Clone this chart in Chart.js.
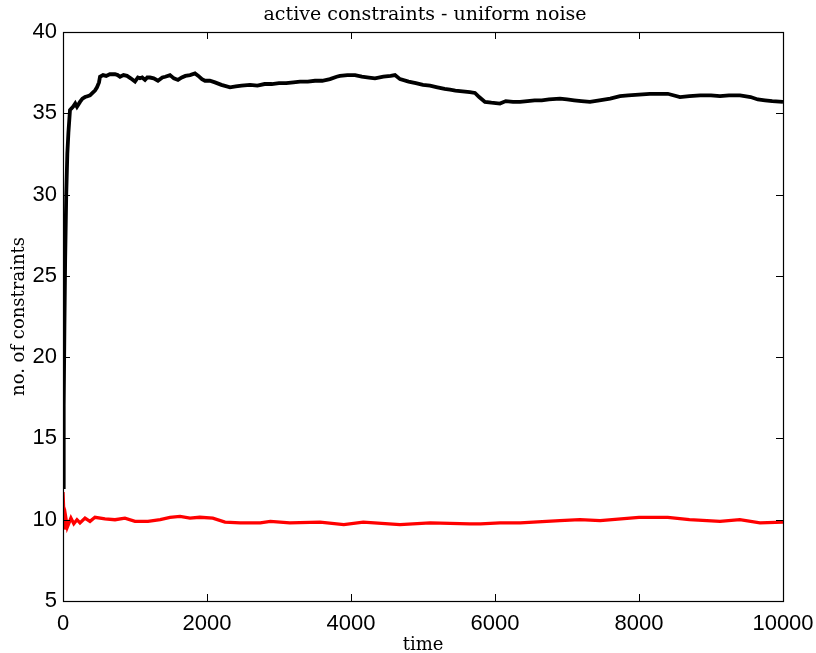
<!DOCTYPE html>
<html>
<head>
<meta charset="utf-8">
<script src="https://cdn.jsdelivr.net/npm/chart.js@4/dist/chart.umd.min.js"></script>
<style>
  html, body { margin: 0; padding: 0; background: #fff; }
  #wrap { width: 816px; height: 653px; }
</style>
</head>
<body>
<div id="wrap"><canvas id="chart"></canvas></div>
<script>
// black curve: all active constraints
const blackTime = [0, 10, 20, 30, 45, 60, 75, 97, 139, 170, 194, 236, 270, 306, 340, 375, 410, 444, 472, 500, 514, 556, 600, 650, 722, 760, 792, 840, 889, 940, 1000, 1040, 1069, 1100, 1139, 1170, 1208, 1260, 1319, 1380, 1420, 1486, 1540, 1597, 1650, 1700, 1764, 1833, 1880, 1930, 1972, 2040, 2111, 2200, 2320, 2400, 2480, 2597, 2700, 2800, 2900, 3000, 3100, 3200, 3292, 3400, 3500, 3600, 3708, 3800, 3847, 3950, 4056, 4150, 4250, 4333, 4450, 4550, 4611, 4681, 4800, 4900, 5000, 5097, 5200, 5300, 5375, 5450, 5550, 5650, 5722, 5780, 5861, 5950, 6069, 6150, 6250, 6347, 6450, 6550, 6650, 6750, 6903, 7000, 7100, 7200, 7319, 7450, 7600, 7736, 7850, 8000, 8150, 8292, 8400, 8569, 8700, 8850, 9000, 9125, 9250, 9403, 9550, 9650, 9750, 9850, 10000];
const blackVals = [12.0, 17, 22, 26, 30, 32.5, 33.8, 35.2, 35.4, 35.6, 35.4, 35.7, 35.9, 36.0, 36.05, 36.1, 36.25, 36.4, 36.6, 36.9, 37.25, 37.35, 37.3, 37.4, 37.4, 37.35, 37.25, 37.35, 37.3, 37.15, 36.95, 37.2, 37.15, 37.2, 37.05, 37.2, 37.2, 37.15, 37.0, 37.2, 37.25, 37.35, 37.15, 37.05, 37.2, 37.3, 37.35, 37.45, 37.3, 37.1, 37.0, 37.0, 36.9, 36.75, 36.6, 36.65, 36.7, 36.75, 36.7, 36.8, 36.8, 36.85, 36.85, 36.9, 36.95, 36.95, 37.0, 37.0, 37.1, 37.25, 37.3, 37.35, 37.35, 37.25, 37.2, 37.15, 37.25, 37.3, 37.35, 37.1, 36.95, 36.85, 36.75, 36.7, 36.6, 36.5, 36.45, 36.4, 36.35, 36.3, 36.25, 36.0, 35.7, 35.65, 35.6, 35.75, 35.7, 35.7, 35.75, 35.8, 35.8, 35.85, 35.9, 35.85, 35.8, 35.75, 35.7, 35.8, 35.9, 36.05, 36.1, 36.15, 36.2, 36.2, 36.2, 36.0, 36.05, 36.1, 36.1, 36.05, 36.1, 36.1, 36.0, 35.85, 35.8, 35.75, 35.7];

// red curve
const redTime = [0, 20, 40, 60, 110, 150, 194, 236, 306, 375, 444, 583, 722, 860, 1000, 1180, 1350, 1486, 1625, 1764, 1900, 2080, 2250, 2460, 2740, 2880, 3150, 3570, 3900, 4170, 4680, 5100, 5650, 5800, 6070, 6350, 6900, 7180, 7460, 8000, 8400, 8700, 9125, 9400, 9680, 10000];
const redVals = [11.7, 9.4, 10.1, 9.55, 10.1, 9.75, 10.0, 9.8, 10.1, 9.9, 10.15, 10.05, 10.0, 10.1, 9.9, 9.9, 10.0, 10.15, 10.2, 10.1, 10.15, 10.1, 9.85, 9.8, 9.8, 9.9, 9.8, 9.85, 9.7, 9.85, 9.7, 9.8, 9.75, 9.75, 9.8, 9.8, 9.95, 10.0, 9.95, 10.15, 10.15, 10.0, 9.9, 10.0, 9.8, 9.85];

const xTicks = [0, 2000, 4000, 6000, 8000, 10000];
const yTicks = [5, 10, 15, 20, 25, 30, 35, 40];
const chartTitle = 'active constraints - uniform noise';

const toPoints = (ts, vs) => ts.map((t, i) => ({ x: t, y: vs[i] }));

const serif = "'DejaVu Serif', serif";
const sans = "'Liberation Sans', Arial, sans-serif";

// matlab style box with inward ticks on all four sides, title centred on the axes
const boxPlugin = {
    id: 'matlabBox',
    afterDatasetsDraw(chart) {
        const { ctx, chartArea: a, scales } = chart;
        const len = 7;
        ctx.save();
        ctx.strokeStyle = '#000';
        ctx.lineWidth = 1;
        ctx.beginPath();
        xTicks.forEach((v) => {
            const px = Math.round(scales.x.getPixelForValue(v)) + 0.5;
            ctx.moveTo(px, a.bottom); ctx.lineTo(px, a.bottom - len);
            ctx.moveTo(px, a.top); ctx.lineTo(px, a.top + len);
        });
        yTicks.forEach((v) => {
            const py = Math.round(scales.y.getPixelForValue(v)) + 0.5;
            ctx.moveTo(a.left, py); ctx.lineTo(a.left + len, py);
            ctx.moveTo(a.right, py); ctx.lineTo(a.right - len, py);
        });
        ctx.stroke();
        ctx.lineWidth = 1.2;
        ctx.strokeRect(Math.round(a.left) + 0.5, Math.round(a.top) + 0.5,
            Math.round(a.right - a.left), Math.round(a.bottom - a.top));

        ctx.fillStyle = '#000';
        ctx.font = "19px " + serif;
        ctx.textAlign = 'center';
        ctx.textBaseline = 'alphabetic';
        ctx.fillText(chartTitle, (a.left + a.right) / 2 + 2, 20);
        ctx.restore();
    }
};

new Chart(document.getElementById('chart').getContext('2d'), {
    type: 'line',
    data: {
        datasets: [
            {
                label: 'active',
                data: toPoints(blackTime, blackVals),
                borderColor: '#000',
                borderWidth: 3.8,
                pointRadius: 0,
                tension: 0,
                fill: false,
            },
            {
                label: 'red',
                data: toPoints(redTime, redVals),
                borderColor: '#ff0000',
                borderWidth: 3.3,
                pointRadius: 0,
                tension: 0,
                fill: false,
            },
        ],
    },
    options: {
        responsive: true,
        maintainAspectRatio: false,
        animation: false,
        layout: { padding: { top: 32, right: 33, left: 0, bottom: 0 } },
        plugins: {
            legend: { display: false },
            tooltip: { enabled: false },
        },
        scales: {
            x: {
                type: 'linear',
                min: 0,
                max: 10000,
                grid: { display: false, drawTicks: false },
                border: { display: false },
                afterBuildTicks: (scale) => { scale.ticks = xTicks.map((v) => ({ value: v })); },
                afterFit: (scale) => {
                    scale.height = 52;
                    scale.paddingLeft = 0;
                    scale.paddingRight = 0;
                },
                ticks: {
                    autoSkip: false,
                    maxRotation: 0,
                    padding: 10,
                    color: '#000',
                    font: { family: sans, size: 22 },
                    callback: (v) => String(v),
                },
                title: {
                    display: true,
                    text: 'time',
                    color: '#000',
                    font: { family: serif, size: 18 },
                    padding: { top: -3, bottom: -3 },
                },
            },
            y: {
                min: 5,
                max: 40,
                grid: { display: false, drawTicks: false },
                border: { display: false },
                afterBuildTicks: (scale) => { scale.ticks = yTicks.map((v) => ({ value: v })); },
                afterFit: (scale) => {
                    scale.width = 63;
                    scale.paddingTop = 0;
                    scale.paddingBottom = 0;
                },
                ticks: {
                    padding: 6,
                    color: '#000',
                    font: { family: sans, size: 22 },
                    callback: (v) => String(v),
                },
                title: {
                    display: true,
                    text: 'no. of constraints',
                    color: '#000',
                    font: { family: serif, size: 18 },
                    padding: { top: 9, bottom: 0 },
                },
            },
        },
    },
    plugins: [boxPlugin],
});
</script>
</body>
</html>
